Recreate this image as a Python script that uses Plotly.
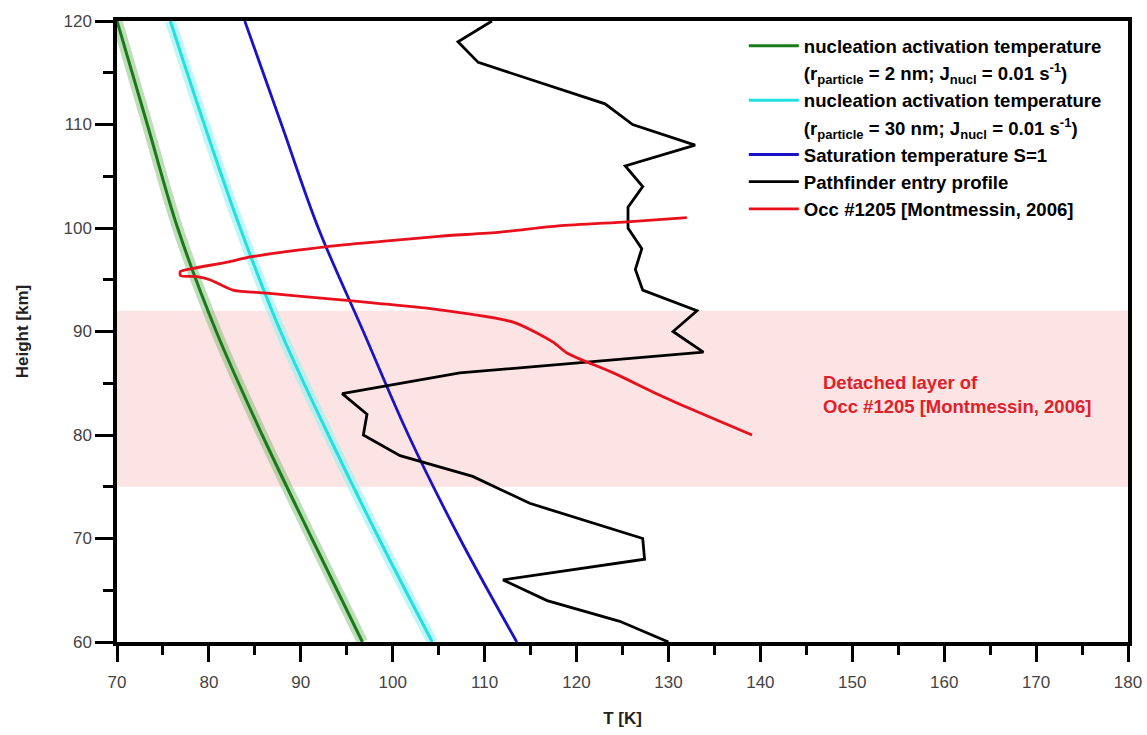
import plotly.graph_objects as go

# ---------------- data ----------------
height_curves = [60, 70, 80, 90, 100, 110, 120]
t_nucl_2nm = [96.7, 91.2, 85.8, 80.8, 76.6, 73.3, 70.0]
t_nucl_30nm = [104.3, 98.5, 93.0, 87.8, 83.4, 79.5, 75.8]
t_saturation = [113.5, 107.3, 101.7, 96.8, 91.9, 87.9, 83.9]

pf_height = [120, 118, 116, 114, 112, 110, 108, 106, 104, 102, 100, 98, 96, 94, 92, 90, 88,
             86, 84, 82, 80, 78, 76, 73.4, 70, 68, 66, 64, 62, 60]
pf_temp = [110.8, 107.1, 109.3, 116.2, 123.1, 126.1, 132.9, 125.3, 127.2, 125.6, 125.6, 127.1,
           126.4, 127.2, 133.1, 130.5, 133.8, 107.3, 94.5, 97.2, 96.8, 100.8, 108.7, 114.9,
           127.2, 127.4, 112.0, 116.8, 124.7, 130.0]

occ_temp = [132.0, 125.5, 118.0, 111.7, 105.0, 98.8, 92.9, 84.5, 82.0, 78.3, 76.9, 76.9, 78.7,
            80.1, 82.6, 86.3, 95.0, 98.6, 105.1, 113.1, 117.4, 119.0, 124.0, 129.4, 139.1]
occ_height = [101.0, 100.6, 100.2, 99.6, 99.2, 98.7, 98.2, 97.2, 96.7, 96.1, 95.8, 95.4, 95.3,
              95.0, 94.0, 93.7, 93.0, 92.7, 92.1, 90.9, 89.0, 87.9, 86.0, 83.7, 80.0]

layer_bottom, layer_top = 75, 92
x_range = [70, 180]
y_range = [60, 120]

legend_lines = [
    "<b>nucleation activation temperature</b>",
    "<b>(r<sub>particle</sub> = 2 nm; J<sub>nucl</sub> = 0.01 s<sup>-1</sup>)</b>",
    "<b>nucleation activation temperature</b>",
    "<b>(r<sub>particle</sub> = 30 nm; J<sub>nucl</sub> = 0.01 s<sup>-1</sup>)</b>",
    "<b>Saturation temperature S=1</b>",
    "<b>Pathfinder entry profile</b>",
    "<b>Occ #1205 [Montmessin, 2006]</b>",
]
layer_label = "<b>Detached layer of<br>Occ #1205 [Montmessin, 2006]</b>"

FONT = "Liberation Sans, Arial, sans-serif"

fig = go.Figure()

# uncertainty bands (wide translucent lines)
fig.add_trace(go.Scatter(x=t_nucl_2nm, y=height_curves, mode="lines", showlegend=False,
                         line=dict(color="rgba(110,180,100,0.45)", width=11, shape="spline"),
                         hoverinfo="skip"))
fig.add_trace(go.Scatter(x=t_nucl_30nm, y=height_curves, mode="lines", showlegend=False,
                         line=dict(color="rgba(150,240,240,0.6)", width=11, shape="spline"),
                         hoverinfo="skip"))


def legend_continuation(text):
    # second text line of a two-line legend entry (no mark of its own)
    return go.Scatter(x=[None], y=[None], mode="lines", name=text,
                      line=dict(color="rgba(0,0,0,0)", width=0), hoverinfo="skip")


fig.add_trace(go.Scatter(x=t_nucl_2nm, y=height_curves, mode="lines", name=legend_lines[0],
                         line=dict(color="#1a7a1a", width=3, shape="spline")))
fig.add_trace(legend_continuation(legend_lines[1]))
fig.add_trace(go.Scatter(x=t_nucl_30nm, y=height_curves, mode="lines", name=legend_lines[2],
                         line=dict(color="#22e0e0", width=3, shape="spline")))
fig.add_trace(legend_continuation(legend_lines[3]))
fig.add_trace(go.Scatter(x=t_saturation, y=height_curves, mode="lines", name=legend_lines[4],
                         line=dict(color="#1a12c8", width=2.8, shape="spline")))
fig.add_trace(go.Scatter(x=pf_temp, y=pf_height, mode="lines", name=legend_lines[5],
                         line=dict(color="black", width=2.8)))
fig.add_trace(go.Scatter(x=occ_temp, y=occ_height, mode="lines", name=legend_lines[6],
                         line=dict(color="#e8101c", width=2.8, shape="spline", smoothing=0.7)))

fig.add_shape(type="rect", xref="x", yref="y", x0=x_range[0], x1=x_range[1],
              y0=layer_bottom, y1=layer_top, fillcolor="#fde4e4", line=dict(width=0),
              layer="below")

fig.add_annotation(x=146.6, y=83.9, xref="x", yref="y", xanchor="left", yanchor="middle",
                   align="left", showarrow=False, text=layer_label,
                   font=dict(family=FONT, size=18.5, color="#e0202a"))

axis_common = dict(
    showgrid=False, zeroline=False, showline=True, linecolor="black", linewidth=3.5,
    mirror=True, ticks="outside", tickwidth=3, tickcolor="black", automargin=False,
    tickfont=dict(family=FONT, size=17, color="#444444"),
)

fig.update_xaxes(range=x_range, dtick=10, tick0=70, ticklen=16, ticklabelstandoff=6,
                 minor=dict(ticks="outside", ticklen=9, tickwidth=3, tickcolor="black", dtick=5),
                 title=dict(text="<b>T [K]</b>", font=dict(family=FONT, size=17, color="#222"),
                            standoff=22),
                 **axis_common)
fig.update_yaxes(range=y_range, dtick=10, tick0=60, ticklen=18,
                 minor=dict(ticks="outside", ticklen=10, tickwidth=3, tickcolor="black", dtick=5),
                 title=dict(text="<b>Height [km]</b>", font=dict(family=FONT, size=17, color="#222"),
                            standoff=32),
                 **axis_common)

fig.update_layout(
    width=1147, height=735,
    margin=dict(l=117, r=19, t=21, b=93),
    plot_bgcolor="white", paper_bgcolor="white",
    font=dict(family=FONT, size=18.6, color="black"),
    legend=dict(x=0.620, y=0.99, xanchor="left", yanchor="top", valign="middle",
                bgcolor="rgba(0,0,0,0)", borderwidth=0, itemwidth=50,
                font=dict(family=FONT, size=18.6, color="black"), tracegroupgap=0),
    showlegend=True,
)

fig.write_html("out.html")
